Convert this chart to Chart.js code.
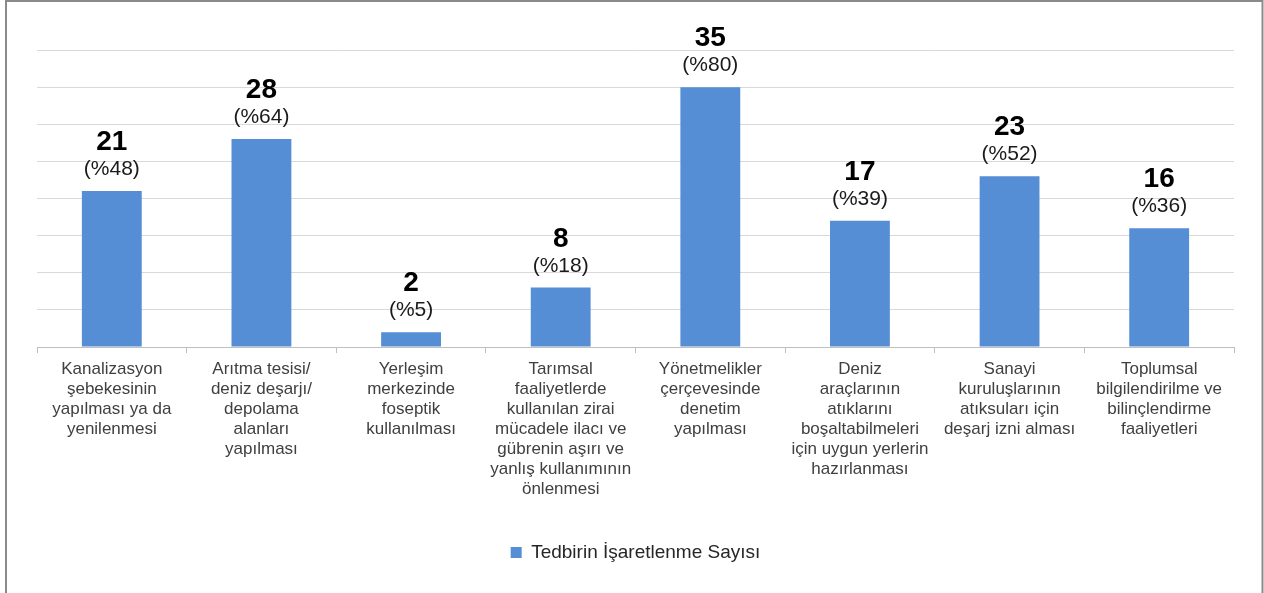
<!DOCTYPE html>
<html lang="tr">
<head>
<meta charset="utf-8">
<title>Tedbirin İşaretlenme Sayısı</title>
<script src="https://cdn.jsdelivr.net/npm/chart.js@4.4.1/dist/chart.umd.min.js"></script>
<style>
  html, body { margin: 0; padding: 0; background: #ffffff; }
  #wrap { position: relative; width: 1264px; height: 593px; }
</style>
</head>
<body>
<div id="wrap"><canvas id="chart" width="1264" height="593"></canvas></div>
<script>
// Measures (category axis), one array of wrapped lines per category
const categoryLines = [
  ["Kanalizasyon", "şebekesinin", "yapılması ya da", "yenilenmesi"],
  ["Arıtma tesisi/", "deniz deşarjı/", "depolama", "alanları", "yapılması"],
  ["Yerleşim", "merkezinde", "foseptik", "kullanılması"],
  ["Tarımsal", "faaliyetlerde", "kullanılan zirai", "mücadele ilacı ve", "gübrenin aşırı ve", "yanlış kullanımının", "önlenmesi"],
  ["Yönetmelikler", "çerçevesinde", "denetim", "yapılması"],
  ["Deniz", "araçlarının", "atıklarını", "boşaltabilmeleri", "için uygun yerlerin", "hazırlanması"],
  ["Sanayi", "kuruluşlarının", "atıksuları için", "deşarj izni alması"],
  ["Toplumsal", "bilgilendirilme ve", "bilinçlendirme", "faaliyetleri"]
];

// How many times each measure was marked, and the share in percent
const markCounts = [21, 28, 2, 8, 35, 17, 23, 16];
const markPercents = [48, 64, 5, 18, 80, 39, 52, 36];

const seriesName = "Tedbirin İşaretlenme Sayısı";

// Value axis range (no tick labels shown, only gridlines)
const yMin = 0;
const yMax = 40;
const yStep = 5;

const FONT = "'Liberation Sans', Arial, Helvetica, sans-serif";

// Count (bold) and percentage in parentheses above each bar
const valueLabels = {
  id: "valueLabels",
  afterDatasetsDraw(chart) {
    const ctx = chart.ctx;
    const meta = chart.getDatasetMeta(0);
    ctx.save();
    ctx.textAlign = "center";
    ctx.textBaseline = "alphabetic";
    meta.data.forEach((bar, i) => {
      ctx.fillStyle = "#000000";
      ctx.font = "bold 28px " + FONT;
      ctx.fillText(String(markCounts[i]), bar.x, bar.y - 41);
      ctx.fillStyle = "#1a1a1a";
      ctx.font = "21px " + FONT;
      ctx.fillText("(%" + markPercents[i] + ")", bar.x, bar.y - 16);
    });
    ctx.restore();
  }
};

// Thin grey frame around the whole chart
const frame = {
  id: "frame",
  afterDraw(chart) {
    const ctx = chart.ctx;
    ctx.save();
    ctx.strokeStyle = "#8a8a8a";
    ctx.lineWidth = 2;
    ctx.strokeRect(6, 1, 1256.5, 700);
    ctx.restore();
  }
};

new Chart(document.getElementById("chart"), {
  type: "bar",
  data: {
    labels: categoryLines,
    datasets: [{
      label: seriesName,
      data: markCounts,
      backgroundColor: "#558ed5",
      borderWidth: 0,
      barPercentage: 0.4,
      categoryPercentage: 1.0
    }]
  },
  options: {
    responsive: false,
    devicePixelRatio: 1,
    animation: false,
    layout: { padding: { left: 37, right: 30, top: 50, bottom: 21 } },
    plugins: {
      legend: {
        position: "bottom",
        labels: {
          boxWidth: 11,
          boxHeight: 11,
          padding: 10,
          color: "#262626",
          font: { family: FONT, size: 19 }
        }
      },
      tooltip: { enabled: false },
      title: { display: false }
    },
    scales: {
      x: {
        offset: true,
        grid: {
          display: true,
          drawOnChartArea: false,
          drawTicks: true,
          tickLength: 6,
          color: "#bfbfbf",
          offset: true
        },
        border: { display: true, color: "#bfbfbf", width: 1 },
        ticks: {
          autoSkip: false,
          maxRotation: 0,
          minRotation: 0,
          padding: 6,
          color: "#404040",
          font: { family: FONT, size: 17, lineHeight: 1.18 }
        },
        afterFit(scale) { scale.height = 186; }
      },
      y: {
        min: yMin,
        max: yMax,
        ticks: { display: false, stepSize: yStep },
        grid: { color: "#d9d9d9", lineWidth: 1, drawTicks: false },
        border: { display: false },
        afterFit(scale) { scale.width = 0; }
      }
    }
  },
  plugins: [valueLabels, frame]
});
</script>
</body>
</html>
